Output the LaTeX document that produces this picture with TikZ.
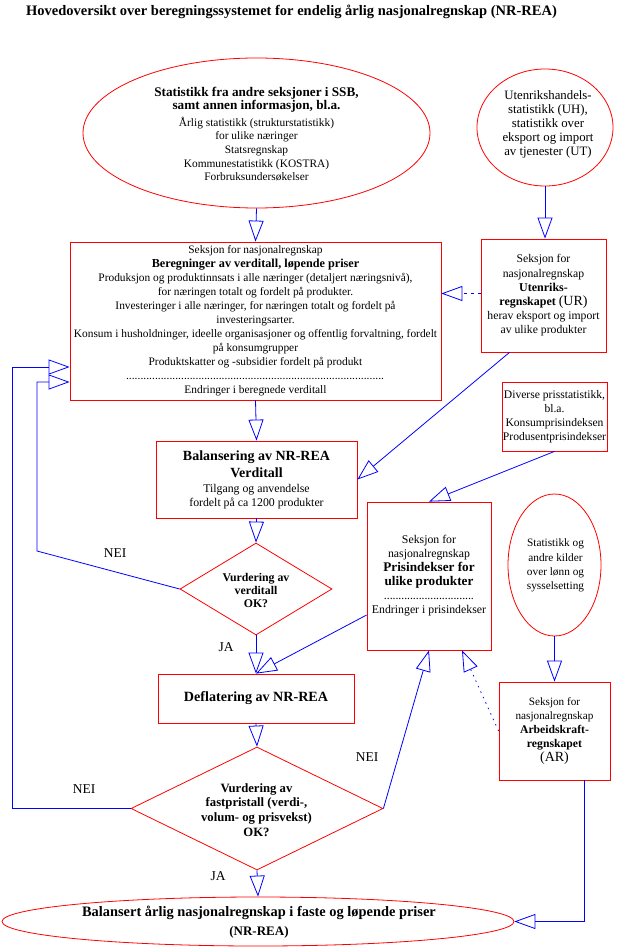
\documentclass[tikz,border=0pt]{standalone}
\usepackage{fontspec}
\setmainfont{Liberation Serif}
\usetikzlibrary{arrows.meta,shapes.geometric}
\newcommand{\myfs}[2]{\fontsize{#1}{#2}\selectfont}
\newcommand{\dotrow}[1]{\makebox[#1]{\leaders\hbox to 2.9pt{\hss.\hss}\hfill}}
\begin{document}
\begin{tikzpicture}[x=1pt,y=-1pt,
  redbox/.style={draw=red, line width=0.8pt, rectangle, inner sep=0pt, align=center},
  redell/.style={draw=red, line width=0.8pt, ellipse, inner sep=0pt},
  reddia/.style={draw=red, line width=0.8pt, diamond, inner sep=0pt},
  txt/.style={align=center, inner sep=0pt},
  flow/.style={draw=blue, line width=0.8pt, -{Triangle[open, length=21pt, width=15pt]}},
  wire/.style={draw=blue, line width=0.8pt},
  lbl/.style={font=\myfs{13.5}{16}, inner sep=0pt}]
\path[use as bounding box, fill=white] (0,0) rectangle (624,949);

% title
\node[txt, font=\bfseries\myfs{14.5}{17}] (title) at (291.5,11.5)
  {Hovedoversikt over beregningssystemet for endelig årlig nasjonalregnskap (NR-REA)};

% top ellipse
\node[redell, minimum width=347pt, minimum height=150pt] (e1) at (256.5,133) {};
\node[txt, font=\myfs{11.4}{13.7}] (e1t) at (256.5,134)
  {{\bfseries\myfs{13.2}{13}Statistikk fra andre seksjoner i SSB,}\\[-0.7pt]
   {\bfseries\myfs{13.2}{13}samt annen informasjon, bl.a.}\\[3.3pt]
   Årlig statistikk (strukturstatistikk)\\
   for ulike næringer\\
   Statsregnskap\\
   Kommunestatistikk (KOSTRA)\\
   Forbruksundersøkelser};

% UH circle
\node[redell, minimum width=136pt, minimum height=117pt] (uh) at (545,127.5) {};
\node[txt, font=\myfs{12.8}{14}] (uht) at (548,124)
  {Utenrikshandels-\\statistikk (UH),\\statistikk over\\eksport og import\\av tjenester (UT)};

% big box
\node[redbox, minimum width=371pt, minimum height=158pt, font=\myfs{11.4}{14}] (big) at (255.5,321)
  {Seksjon for nasjonalregnskap\\
   {\bfseries\myfs{12.2}{14}Beregninger av verditall, løpende priser}\\
   Produksjon og produktinnsats i alle næringer (detaljert næringsnivå),\\
   for næringen totalt og fordelt på produkter.\\
   Investeringer i alle næringer, for næringen totalt og fordelt på\\
   investeringsarter.\\
   Konsum i husholdninger, ideelle organisasjoner og offentlig forvaltning, fordelt\\
   på konsumgrupper\\
   Produktskatter og -subsidier fordelt på produkt\\
   \dotrow{259pt}\\
   Endringer i beregnede verditall};

% UR box
\node[redbox, minimum width=125pt, minimum height=113pt, font=\myfs{11.7}{14.2}] (ur) at (543.5,295.5)
  {Seksjon for\\nasjonalregnskap\\
   {\bfseries\myfs{12}{14}Utenriks-}\\
   {\bfseries\myfs{12}{14}regnskapet} {\myfs{14}{14}(UR)}\\
   herav eksport og import\\av ulike produkter};

% Balansering
\node[redbox, minimum width=201pt, minimum height=77pt, font=\myfs{11.8}{14}] (bal) at (256.5,479.5)
  {{\bfseries\myfs{14}{17}Balansering av NR-REA}\\[3pt]
   {\bfseries\myfs{14}{17}Verditall}\\[1pt]
   Tilgang og anvendelse\\fordelt på ca 1200 produkter};

% Diverse
\node[redbox, minimum width=105pt, minimum height=69pt, font=\myfs{11.6}{14}] (div) at (554.5,416.5)
  {Diverse prisstatistikk,\\bl.a.\\Konsumprisindeksen\\Produsentprisindekser};

% Prisindekser
\node[redbox, minimum width=124pt, minimum height=148pt, font=\myfs{11.8}{14}] (pris) at (429,576)
  {Seksjon for\\nasjonalregnskap\\
   {\bfseries\myfs{13.2}{14}Prisindekser for}\\
   {\bfseries\myfs{13.2}{14}ulike produkter}\\
   \dotrow{90pt}\\
   Endringer i prisindekser};

% labour ellipse
\node[redell, minimum width=93pt, minimum height=142pt] (lab) at (554.5,565) {};
\node[txt, font=\myfs{11.3}{14.3}] (labt) at (555.5,565.5)
  {Statistikk og\\andre kilder\\over lønn og\\sysselsetting};

% AR box
\node[redbox, minimum width=111pt, minimum height=98pt, font=\myfs{11.2}{14}] (ar) at (554.5,731)
  {Seksjon for\\nasjonalregnskap\\
   {\bfseries\myfs{11.7}{14}Arbeidskraft-}\\
   {\bfseries\myfs{11.7}{14}regnskapet}\\
   {\myfs{14}{14}(AR)}};

% diamond 1
\node[reddia, minimum width=152pt, minimum height=92pt] (d1) at (256,589) {};
\node[txt, font=\bfseries\myfs{11.8}{13}] (d1t) at (256,590) {Vurdering av\\verditall\\OK?};

% Deflatering
\node[redbox, minimum width=196pt, minimum height=49pt, font=\bfseries\myfs{14.1}{17}] (defl) at (256,698.5)
  {Deflatering av NR-REA};

% diamond 2
\node[reddia, minimum width=252pt, minimum height=123pt] (d2) at (257,808.5) {};
\node[txt, font=\bfseries\myfs{12.7}{14.7}] (d2t) at (256.5,810)
  {Vurdering av\\fastpristall (verdi-,\\volum- og prisvekst)\\OK?};

% bottom ellipse
\node[redell, minimum width=512pt, minimum height=49pt] (e3) at (258,921.5) {};
\node[txt, font=\bfseries\myfs{14.4}{18.5}] (e3t) at (259,922)
  {Balansert årlig nasjonalregnskap i faste og løpende priser\\{\myfs{13}{18.5}(NR-REA)}};

% labels
\node[lbl] (nei1) at (115,553) {NEI};
\node[lbl] (ja1) at (226,647) {JA};
\node[lbl] (nei2) at (367,757) {NEI};
\node[lbl] (nei3) at (84,789) {NEI};
\node[lbl] (ja2) at (218,876) {JA};

% helper coordinates
\coordinate (n1a) at (37,551);
\coordinate (n1b) at (37,382);
\coordinate (n2b) at (12,367);

% connectors
\draw[flow] (e1.south) -- (big.north);
\draw[flow] (uh.south) -- (uh.south |- ur.north);
\draw[flow, dash pattern=on 3pt off 4pt] ([yshift=2pt]ur.west) -- ([yshift=2pt]ur.west -| big.east);
\draw[flow] (big.south) -- (bal.north);
\draw[flow] ([xshift=-34pt]ur.south) -- (bal.east);
\draw[flow] (bal.south) -- (d1.north);
\draw[flow] (d1.south) -- (defl.north);
\draw[flow] (d1.west) -- (n1a) -- (n1b) -- (n1b -| big.west);
\draw[flow] ([yshift=-39pt]pris.west) -- (defl.north);
\draw[flow] (defl.south) -- (d2.north);
\draw[flow] (d2.west) -| (n2b) -- (n2b -| big.west);
\draw[flow] (d2.east) -- (pris.south);
\draw[flow] (div.south) -- (pris.north);
\draw[flow] (lab.south) -- (ar.north);
\draw[flow, dash pattern=on 1.5pt off 4.5pt] (ar.west) -- ([xshift=33pt]pris.south);
\draw[flow] ([xshift=29.5pt]ar.south) |- (e3.east);
\draw[flow] (d2.south) -- (e3.north);
\end{tikzpicture}
\end{document}
